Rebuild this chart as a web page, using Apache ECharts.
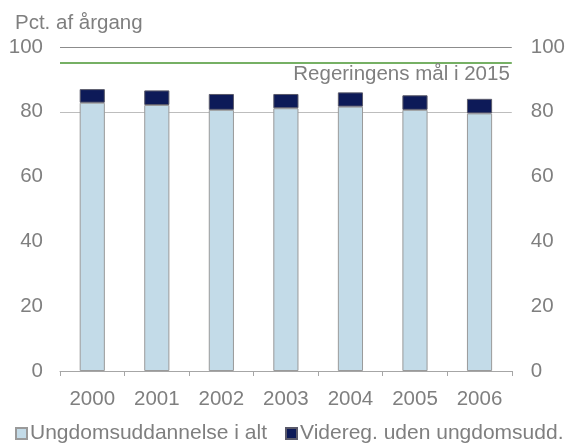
<!DOCTYPE html>
<html>
<head>
<meta charset="utf-8">
<script src="https://cdn.jsdelivr.net/npm/echarts@6/dist/echarts.min.js"></script>
<style>
  html, body { margin: 0; padding: 0; background: #fff; }
  #main { width: 568px; height: 444px; }
</style>
</head>
<body>
<div id="main"></div>
<script>
// data
const years = ['2000', '2001', '2002', '2003', '2004', '2005', '2006'];
const ungdomsudd = [82.8, 82.1, 80.6, 81.1, 81.6, 80.6, 79.5];
const videreg = [4.2, 4.5, 4.9, 4.4, 4.4, 4.5, 4.5];
const goal = 95;
const goalLabel = 'Regeringens mål i 2015';

const grey = '#7f7f7f';
const font = 'Liberation Sans, Arial, sans-serif';
const fs = 20.5;

const chart = echarts.init(document.getElementById('main'));

const yAxisBase = {
  type: 'value',
  min: 0,
  max: 100,
  interval: 20,
  axisLine: { show: false },
  axisTick: { show: false },
  axisLabel: { color: grey, fontSize: fs, fontFamily: font, margin: 17 }
};

const legendText = { color: grey, fontSize: 21, fontFamily: font, padding: [0, 0, 0, -2] };

chart.setOption({
  animation: false,
  grid: { left: 60, right: 54, top: 47, bottom: 73, containLabel: false },
  title: {
    text: 'Pct. af årgang',
    left: 10, top: 8,
    textStyle: { color: grey, fontSize: fs, fontWeight: 'normal', fontFamily: font }
  },
  legend: [
    {
      top: 418, left: 10,
      icon: 'rect', itemWidth: 11, itemHeight: 11,
      textStyle: legendText,
      data: ['Ungdomsuddannelse i alt']
    },
    {
      top: 418, left: 280,
      icon: 'rect', itemWidth: 11, itemHeight: 11,
      textStyle: legendText,
      data: ['Videreg. uden ungdomsudd.']
    }
  ],
  xAxis: {
    type: 'category',
    data: years,
    axisLine: { lineStyle: { color: '#a6a6a6' } },
    axisTick: { show: true, length: 5, lineStyle: { color: '#a6a6a6' } },
    axisLabel: { color: grey, fontSize: fs, fontFamily: font, margin: 18 }
  },
  yAxis: [
    Object.assign({}, yAxisBase, {
      splitLine: {
        show: true,
        lineStyle: { color: ['transparent', 'transparent', 'transparent', 'transparent', '#bdbdbd', '#8c8c8c'] }
      }
    }),
    Object.assign({}, yAxisBase, {
      position: 'right',
      splitLine: { show: false },
      axisLabel: { color: grey, fontSize: fs, fontFamily: font, margin: 19 }
    })
  ],
  series: [
    {
      name: 'Ungdomsuddannelse i alt',
      type: 'bar',
      stack: 'a',
      barWidth: '39%',
      data: ungdomsudd,
      itemStyle: { color: '#c3dbe8', borderColor: '#9a9a9a', borderWidth: 1 },
      markLine: {
        symbol: 'none',
        silent: true,
        lineStyle: { color: '#76b064', width: 2, type: 'solid' },
        label: {
          position: 'insideEndBottom',
          formatter: goalLabel,
          color: grey, fontSize: fs, fontFamily: font,
          distance: [2, 1]
        },
        data: [{ yAxis: goal }]
      }
    },
    {
      name: 'Videreg. uden ungdomsudd.',
      type: 'bar',
      stack: 'a',
      data: videreg,
      itemStyle: { color: '#0d1a58', borderColor: '#5a5a6a', borderWidth: 1 }
    }
  ]
});
</script>
</body>
</html>
